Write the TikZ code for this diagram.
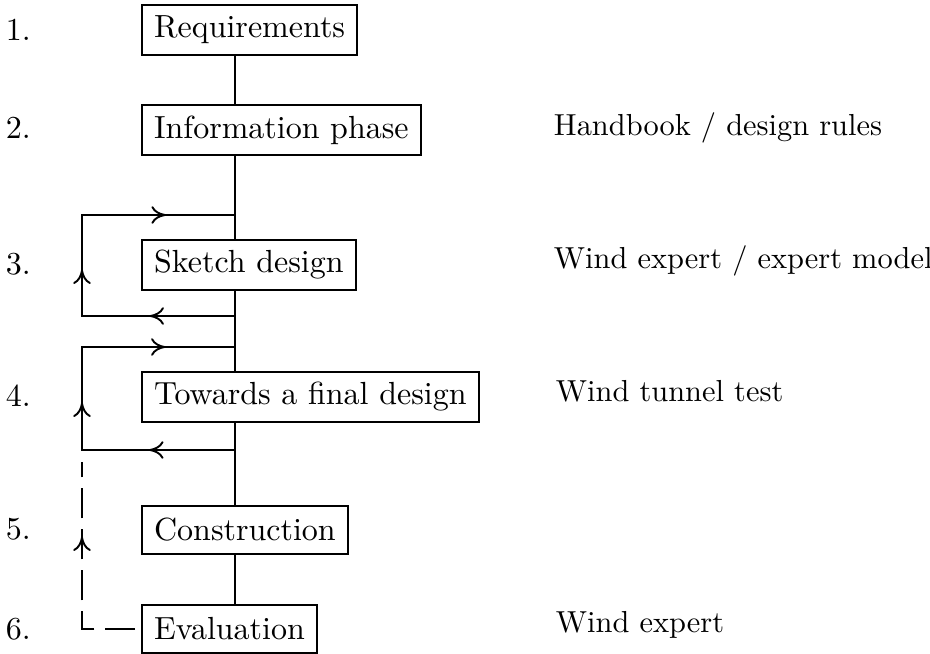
\documentclass[tikz,border=0pt]{standalone}
\usetikzlibrary{arrows.meta,decorations.markings}
\tikzset{every picture/.style = {x=0.3125pt, y=-0.3125pt, line width=0.6pt}}
\tikzset{phase/.style = {draw, anchor=west, inner xsep=3.8pt, minimum height=15pt}}
\tikzset{num/.style = {anchor=west, inner sep=0}}
\tikzset{tool/.style = {anchor=west, inner sep=0, font=\fontsize{9.5pt}{11pt}\selectfont}}
\tikzset{loopback/.style = {postaction={decorate}, decoration={markings,
    mark=at position 0.21 with {\arrow{To[length=4.5pt,width=5.5pt]}},
    mark=at position 0.49 with {\arrow{To[length=4.5pt,width=5.5pt]}},
    mark=at position 0.83 with {\arrow{To[length=4.5pt,width=5.5pt]}}}}}
\tikzset{feedback/.style = {dash pattern=on 9.4pt off 3.4pt, dash phase=11pt,
    postaction={decorate}, decoration={markings,
    mark=at position 0.67 with {\pgfsetdash{}{0pt}\arrow{To[length=4.5pt,width=5.5pt]}}}}}

\begin{document}
\begin{tikzpicture}
  \useasboundingbox (0, 0) rectangle (930, 654);
  % phases
  \node[phase] (req) at (141, 30) {Requirements};
  \node[phase] (info) at (141, 130) {Information phase};
  \node[phase] (sketch) at (141, 265) {Sketch design};
  \node[phase] (final) at (141, 397) {Towards a final design};
  \node[phase] (build) at (141, 530) {Construction};
  \node[phase] (eval) at (141, 629) {Evaluation};
  \foreach \y [count=\i] in {30, 128, 264, 396, 529, 629}
    \node[num] (n\i) at (5, \y) {\i.};
  % tools
  \node[tool] (hb) at (553, 128) {Handbook / design rules};
  \node[tool] (we) at (553, 261) {Wind expert / expert model};
  \node[tool] (wt) at (555, 391) {Wind tunnel test};
  \node[tool] (ex) at (555, 625) {Wind expert};
  % spine
  \coordinate (sp) at (235, 0);
  \coordinate (lp) at (82, 0);
  \draw (req.south -| sp) -- (info.north -| sp);
  \draw (info.south -| sp) -- (sketch.north -| sp);
  \draw (sketch.south -| sp) -- (final.north -| sp);
  \draw (final.south -| sp) -- (build.north -| sp);
  \draw (build.south -| sp) -- (eval.north -| sp);
  % iterations
  \coordinate (s1in) at (235, 215);
  \coordinate (s1out) at (235, 316);
  \coordinate (s2in) at (235, 347);
  \coordinate (s2out) at (235, 450);
  \draw[loopback] (s1out) -- (s1out -| lp) -- (s1in -| lp) -- (s1in);
  \draw[loopback] (s2out) -- (s2out -| lp) -- (s2in -| lp) -- (s2in);
  \coordinate (fb) at (82, 462);
  \draw[feedback] (eval.west) -- (eval.west -| lp) -- (fb);
\end{tikzpicture}
\end{document}
